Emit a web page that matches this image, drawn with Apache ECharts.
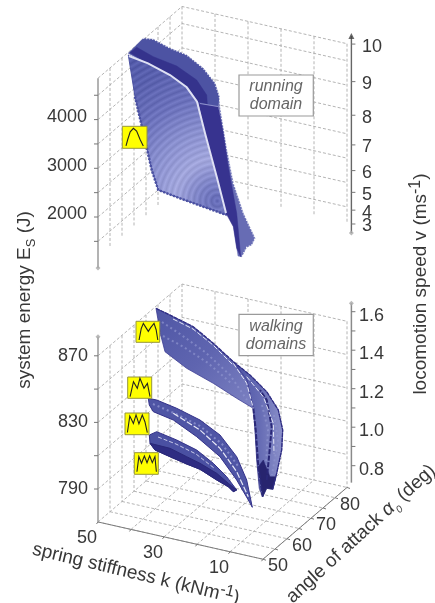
<!DOCTYPE html>
<html>
<head>
<meta charset="utf-8">
<style>html,body{margin:0;padding:0;background:#fff}#c{width:435px;height:603px;filter:blur(.4px)}</style>
<script src="https://cdn.jsdelivr.net/npm/echarts@6/dist/echarts.min.js"></script>
</head>
<body>
<div id="c"></div>
<script>
// ---- axis values ----
const kTicks = [50, 40, 30, 20, 10, 0];
const kLabels = [50, 30, 10];
const alphaTicks = [50, 55, 60, 65, 70, 75, 80, 85];
const alphaLabels = [50, 60, 70, 80];
const energyTicksRun = [1500, 2000, 2500, 3000, 3500, 4000, 4500];
const energyLabelsRun = [2000, 3000, 4000];
const speedTicksRun = [3, 4, 5, 6, 7, 8, 9, 10];
const energyTicksWalk = [790, 810, 830, 850, 870];
const energyLabelsWalk = [790, 830, 870];
const speedTicksWalk = [0.8, 0.9, 1.0, 1.1, 1.2, 1.3, 1.4, 1.5, 1.6];
const speedLabelsWalk = [0.8, 1.0, 1.2, 1.4, 1.6];

// ---- domain outlines in the projected plane of the plot ----
const runBackSheet = [[128.3,53.3],[143.3,38.3],[153.3,39.3],[170,48.3],[186.7,55],[203.3,68.3],[215,83.3],[219.3,96.7],[218.3,106.7],[200,104],[196.7,101.7],[186.7,87.3],[170,75],[146.7,63.3]];
const runDarkStripe = [[130,52.7],[136.7,47.3],[153.3,56.7],[176.7,66],[196.7,80],[206.7,95],[207.3,104],[197.3,101.7],[188.3,87.3],[171.7,75],[148.3,63.3]];
const runFrontSheet = [[128.3,55],[146.7,63.3],[170,75],[186.7,87.3],[196.7,101.7],[205,133.3],[216.7,176.7],[226.7,215],[203.3,206.7],[180,198.3],[158.3,190],[151.7,170],[145,140],[135,96.7]];
const runFrontEdge = [[135,96.7],[145,140],[151.7,170],[158.3,190],[180,198.3],[203.3,206.7],[226.7,215]];
const runOuterEdge = [[143.3,38.3],[153.3,39.3],[170,48.3],[186.7,55],[203.3,68.3],[215,83.3],[219.3,96.7],[220.7,113.3],[226.7,150],[233.3,183.3],[243.3,213.3],[255,238.3],[251.7,245],[246.7,247.3],[241.7,256.7]];
const runSideLight = [[218.3,96.7],[220.7,113.3],[226.7,150],[233.3,183.3],[243.3,213.3],[255,238.3],[251.7,245],[246.7,247.3],[241.7,256.7],[238,256],[236.7,246.7],[230,200],[223.3,146.7]];
const runSideDark = [[198.3,103.3],[218.3,106.7],[223.3,133.3],[228.3,166.7],[236.7,213.3],[240.7,256.7],[236.7,248.3],[233.3,226.7],[226,213.3],[216.7,176.7],[205,133.3]];
const runRidge = [[128.9,56],[148,63.3],[170,75],[186.7,87.3],[197,101.7],[205,133.3],[216.7,176.7],[226,213]];
const runShelf = [[200,103.5],[218,106.5]];

const walk1Front = [[156,308.3],[173.3,316.7],[193.3,326.7],[213.3,343.3],[233.3,361.7],[246.7,380],[253.3,408.3],[236.7,398.3],[213.3,383.3],[186.7,368.3],[165,351.7],[160.7,335]];
const walk1Back = [[233.3,361.7],[250,375],[266.7,391.7],[278.3,410],[282.7,430],[281.7,450],[276.7,473.3],[272.7,489.3],[266.7,488.3],[262.7,496.7],[259.3,488.3],[256.7,460],[255,430],[253.3,408.3],[246.7,380]];
const walk1Tip = [[258.3,466.7],[262.7,496.7],[266.7,488.3],[272.7,489.3],[276,476.7],[270,476.7],[263.3,460]];
const walk1Edge = [[156,308.3],[173.3,316.7],[193.3,326.7],[213.3,343.3],[233.3,361.7],[250,375],[266.7,391.7],[278.3,410],[282.7,430],[281.7,450],[276.7,473.3],[272.7,489.3]];
const walk1InnerA = [[253.3,408.3],[255.7,430],[258.3,466.7],[262.7,496.7]];
const walk1InnerB = [[266.7,480],[270,446.7],[271.7,426.7],[266.7,400],[260,390]];
const walk1GlintA = [[233.3,363.3],[246.7,383.3],[253.3,408.3]];
const walk1GlintB = [[246.7,376.7],[263.3,396.7],[273.3,423.3],[274,453.3]];
const walk1GlintC = [[173,319],[193,329],[213,345],[233,365]];
const walk1Strands = [
  [[162,322],[180,334],[205,352],[230,375],[247,400]],
  [[163,336],[182,346],[208,363],[232,384]],
  [[262,405],[268,430],[266,465]],
  [[274,415],[278,440],[272,475]]
];

const walk2Sheet = [[148.3,398.3],[156.7,400],[176.7,408.3],[200,420],[220,435],[236.7,456.7],[246.7,480],[252.3,507.3],[248.3,500],[236.7,480],[220,456.7],[196.7,436.7],[173.3,420],[153.3,411.7],[149.3,405]];
const walk2Glint = [[173.3,413.3],[200,430],[220,448.3],[236.7,471.7],[248.3,496.7]];
const walk2Strand = [[153,404],[176,414],[200,426],[222,444],[238,466]];

const walk3Sheet = [[149.3,435],[156.7,431.7],[176.7,440],[196.7,450],[213.3,463.3],[226.7,476.7],[236.7,490],[233.3,491.7],[228.3,486.7],[216.7,480],[200,469.3],[186.7,464],[170,456.7],[155,450],[150,443.3]];
const walk3Lower = [[150,443.3],[170,448.3],[186.7,456.7],[200,463.3],[216.7,473.3],[228.3,483.3],[236.7,490],[233.3,491.7],[228.3,486.7],[216.7,480],[200,469.3],[186.7,464],[170,456.7],[155,450]];
const walk3Glint = [[158,437],[176,444],[196,454],[214,468]];

// ---- gait force traces inside the icons (share of icon width, share of icon height) ----
const gaitOneHump = [[.15,.89],[.22,.6],[.32,.25],[.45,.09],[.58,.22],[.72,.6],[.85,.89]];
const gaitTwoHump = [[.13,.89],[.22,.35],[.31,.1],[.42,.3],[.52,.48],[.62,.3],[.76,.1],[.85,.4],[.92,.89]];
const gaitThreeHump = [[.1,.92],[.24,.22],[.4,.53],[.51,.06],[.68,.53],[.82,.3],[.93,.92]];
const gaitFourHump = [[.1,.9],[.2,.14],[.35,.48],[.46,.09],[.58,.5],[.72,.09],[.83,.4],[.93,.9]];
const gaitFiveHump = [[.11,.88],[.19,.18],[.3,.49],[.42,.15],[.53,.46],[.64,.14],[.75,.46],[.86,.18],[.92,.88]];

// ---- oblique projection of (k, alpha, E) ----
const yRun = E => 217 - (E - 2000) * 0.0487;
const yWalk = E => 489 - (E - 790) * 1.665;
const X0 = 98, KDX = 3.3, KDY = 0.745, ADX = 2.4, ADY = 2.05;
const proj = (yOf, k, a, E) => [X0 + (50 - k) * KDX + (a - 50) * ADX, yOf(E) + (50 - k) * KDY - (a - 50) * ADY];

const LABEL = '#383838', FONT = '"Liberation Sans",Arial,sans-serif';
const series = [];

function lineGroup(lines, style, z) {
  series.push({
    type: 'custom', coordinateSystem: 'cartesian2d', silent: true, animation: false, clip: false, z: z,
    data: lines.map((_, i) => [i]), encode: { x: -1, y: -1 },
    renderItem: (p, api) => ({ type: 'polyline', shape: { points: lines[p.dataIndex].map(q => api.coord(q)) }, style: Object.assign({ fill: 'none' }, style) })
  });
}
function area(points, fill, z, stroke, lw) {
  series.push({
    type: 'custom', coordinateSystem: 'cartesian2d', silent: true, animation: false, clip: false, z: z,
    data: points, encode: { x: 0, y: 1 },
    renderItem: (p, api) => p.dataIndex === 0 ? ({ type: 'polygon', shape: { points: points.map(q => api.coord(q)) }, style: { fill: fill, stroke: stroke || fill, lineWidth: lw === undefined ? 0.5 : lw } }) : null
  });
}
function textGroup(items) {
  series.push({
    type: 'custom', coordinateSystem: 'cartesian2d', silent: true, animation: false, clip: false, z: 20,
    data: items.map(t => [t.x, t.y]), encode: { x: 0, y: 1 },
    renderItem: (p, api) => {
      const t = items[p.dataIndex], c = api.coord([t.x, t.y]);
      return { type: 'text', x: c[0], y: c[1], rotation: (t.rot || 0) * Math.PI / 180,
        style: Object.assign({ text: t.text, fill: t.color || LABEL, font: (t.italic ? 'italic ' : '') + (t.size || 18) + 'px ' + FONT, align: t.align || 'center', verticalAlign: 'middle' }, t.rich ? { rich: t.rich } : {}) };
    }
  });
}

// ---- walls, floor, axes ----
const E_FLOOR = 770.2;
function walls(yOf, Etop, Ebottom, ticks) {
  const g = [];
  ticks.concat(Etop === ticks[ticks.length - 1] ? [] : [Etop]).forEach(E => g.push([proj(yOf, 50, 50, E), proj(yOf, 50, 85, E), proj(yOf, 0, 85, E)]));
  alphaTicks.slice(1).forEach(a => g.push([proj(yOf, 50, a, Etop), proj(yOf, 50, a, Ebottom)]));
  kTicks.slice(1).forEach(k => g.push([proj(yOf, k, 85, Etop), proj(yOf, k, 85, Ebottom)]));
  return g;
}
const DASH = { stroke: '#ababab', lineWidth: 0.9, lineDash: [3, 2] };
lineGroup(walls(yRun, 4850, 1158, energyTicksRun), DASH, 1);
lineGroup(walls(yWalk, 870, E_FLOOR, energyTicksWalk), DASH, 1);
const floor = [];
alphaTicks.forEach(a => floor.push([proj(yWalk, 50, a, E_FLOOR), proj(yWalk, 0, a, E_FLOOR)]));
kTicks.forEach(k => floor.push([proj(yWalk, k, 50, E_FLOOR), proj(yWalk, k, 85, E_FLOOR)]));
lineGroup(floor, DASH, 1);

const AX = { stroke: '#7d7d7d', lineWidth: 1 };
lineGroup([[proj(yWalk, 50, 50, E_FLOOR), proj(yWalk, 0, 50, E_FLOOR)], [proj(yWalk, 0, 50, E_FLOOR), proj(yWalk, 0, 85, E_FLOOR)]], AX, 2);
lineGroup([[[X0, yRun(4850)], [X0, yRun(953)]], [[X0, yWalk(881.5)], [X0, yWalk(E_FLOOR)]]], { stroke: '#9a9a9a', lineWidth: 1.5 }, 2);
const xR = 351.4;
const yRunSpeed = v => yRun(40.6 * v * v + 1491);
const yWalkSpeed = v => 465.7 - (v - 0.8) * 192.5;
lineGroup([[[xR, yRun(5717)], [xR, yRun(1671)]]], { stroke: '#666', lineWidth: 1.4 }, 2);
lineGroup([[[xR, yWalkSpeed(1.644)], [xR, yWalkSpeed(0.712)]]], { stroke: '#8a8a8a', lineWidth: 1.5 }, 2);

const ticks = [];
energyTicksRun.forEach(E => ticks.push([[X0 - 4, yRun(E)], [X0, yRun(E)]]));
energyTicksWalk.forEach(E => ticks.push([[X0 - 4, yWalk(E)], [X0, yWalk(E)]]));
speedTicksRun.forEach(v => ticks.push([[xR, yRunSpeed(v)], [xR + 4, yRunSpeed(v)]]));
speedTicksWalk.forEach(v => ticks.push([[xR, yWalkSpeed(v)], [xR + 4, yWalkSpeed(v)]]));
kTicks.forEach(k => { const q = proj(yWalk, k, 50, E_FLOOR); ticks.push([q, [q[0] - 1.5, q[1] + 2]]); });
alphaTicks.forEach(a => { const q = proj(yWalk, 0, a, E_FLOOR); ticks.push([q, [q[0] + 3, q[1] + 1]]); });
lineGroup(ticks, { stroke: '#777', lineWidth: 1 }, 2);

series.push({ type: 'scatter', coordinateSystem: 'cartesian2d', silent: true, animation: false, z: 3, symbol: 'triangle', symbolSize: 6,
  data: [[xR, yRun(5717)]], itemStyle: { color: '#444' } });
series.push({ type: 'scatter', coordinateSystem: 'cartesian2d', silent: true, animation: false, z: 3, symbol: 'diamond', symbolSize: 5,
  data: [[X0, yRun(953)], [xR, yRun(1671)], [X0, yWalk(881.5)], [xR, yWalkSpeed(1.644)]], itemStyle: { color: '#aaa' } });

// ---- running domain ----
const envelope = [[0, [96, 102, 178]], [.12, [124, 130, 196]], [.24, [158, 162, 216]], [.4, [136, 142, 204]], [.6, [104, 110, 184]], [.8, [86, 93, 170]], [1, [78, 85, 164]]];
function bandStops(n) {
  const stops = [];
  for (let i = 0; i <= n; i++) {
    const t = i / n;
    let j = 0; while (j < envelope.length - 2 && envelope[j + 1][0] < t) j++;
    const f = (t - envelope[j][0]) / (envelope[j + 1][0] - envelope[j][0]);
    const sh = i % 2 ? 14 : -6;
    const c = envelope[j][1].map((v, m) => Math.min(255, Math.round(v + (envelope[j + 1][1][m] - v) * f + sh)));
    stops.push({ offset: t, color: 'rgb(' + c.join(',') + ')' });
  }
  return stops;
}
area(runSideLight, '#676cb4', 4);
area(runBackSheet, '#4d53a3', 5);
area(runDarkStripe, '#35338c', 6);
area(runFrontSheet, new echarts.graphic.RadialGradient(0.9, 0.91, 1.75, bandStops(60)), 7, '#4d53a3', 1);
lineGroup([runFrontEdge], { stroke: '#4a50a2', lineWidth: 2.5, lineDash: [2, 1.5] }, 8);
lineGroup([runOuterEdge], { stroke: '#fff', lineWidth: 1.2, lineDash: [1, 2] }, 8);
area(runSideDark, '#37338f', 8);
lineGroup([runRidge], { stroke: '#dfe1f4', lineWidth: 2 }, 9);
lineGroup([runShelf], { stroke: '#8f92cc', lineWidth: 1.2 }, 9);

// ---- walking domains ----
area(walk1Back, new echarts.graphic.LinearGradient(0, 0, 1, 0, [{ offset: 0, color: '#4a50a2' }, { offset: .55, color: '#676db5' }, { offset: 1, color: '#8c91ca' }]), 4, '#2f2d84', 0.8);
area(walk1Front, new echarts.graphic.LinearGradient(0, 0, 1, 1, [{ offset: 0, color: '#4f56a5' }, { offset: .5, color: '#5f65b0' }, { offset: 1, color: '#7d82c2' }]), 5, '#3b3b93', 0.8);
lineGroup(walk1Strands, { stroke: '#8f94cf', lineWidth: 2, lineDash: [2, 3], opacity: 0.7 }, 6);
area(walk1Tip, '#27246f', 6);
lineGroup([walk1Edge], { stroke: '#2f2d84', lineWidth: 1.3, lineDash: [4, 1] }, 7);
lineGroup([walk1InnerA, walk1InnerB], { stroke: '#2a2878', lineWidth: 2, lineDash: [5, 1.5] }, 7);
lineGroup([walk1GlintA, walk1GlintB, walk1GlintC], { stroke: '#e4e6f6', lineWidth: 1, lineDash: [5, 2] }, 8);
area(walk2Sheet, '#4f55a5', 5, '#33318a', 1);
lineGroup([walk2Strand], { stroke: '#8f94cf', lineWidth: 2, lineDash: [2, 3], opacity: 0.8 }, 6);
lineGroup([walk2Glint], { stroke: '#e8e9f7', lineWidth: 1.2, lineDash: [6, 2] }, 8);
area(walk3Sheet, '#4a50a2', 5, '#33318a', 1);
area(walk3Lower, '#2e2c82', 6, '#2a2878', 1);
lineGroup([walk3Glint], { stroke: '#c9cbea', lineWidth: 1, lineDash: [4, 2] }, 8);

// ---- gait icons ----
const icons = [
  { box: [122.3, 126.3, 147, 148.3], trace: gaitOneHump },
  { box: [136, 321.3, 159.7, 342.3], trace: gaitTwoHump },
  { box: [127.7, 377, 151.7, 398.3], trace: gaitThreeHump },
  { box: [125, 413, 149, 434.7], trace: gaitFourHump },
  { box: [134.3, 452.7, 158.3, 474.3], trace: gaitFiveHump }
];
icons.forEach(ic => {
  const b = ic.box;
  area([[b[0], b[1]], [b[2], b[1]], [b[2], b[3]], [b[0], b[3]]], '#ffff00', 12, '#96963c', 1);
  lineGroup([ic.trace.map(q => [b[0] + q[0] * (b[2] - b[0]), b[1] + q[1] * (b[3] - b[1])])], { stroke: '#222', lineWidth: 1.1 }, 13);
});

// ---- note boxes ----
[[239, 75, 313.3, 116], [239, 314.3, 313.3, 355.7]].forEach(b => area([[b[0], b[1]], [b[2], b[1]], [b[2], b[3]], [b[0], b[3]]], '#fff', 11, '#9a9a9a', 1.2));

// ---- text ----
const texts = [
  { x: 276, y: 86.5, text: 'running', italic: 1, size: 16, color: '#666' },
  { x: 276, y: 105, text: 'domain', italic: 1, size: 16, color: '#666' },
  { x: 276, y: 327, text: 'walking', italic: 1, size: 16, color: '#666' },
  { x: 276, y: 345, text: 'domains', italic: 1, size: 16, color: '#666' }
];
energyLabelsRun.forEach(E => texts.push({ x: 87, y: yRun(E) - 2.5, text: String(E), align: 'right' }));
energyLabelsWalk.forEach(E => texts.push({ x: 88, y: yWalk(E), text: String(E), align: 'right' }));
speedTicksRun.forEach(v => texts.push({ x: 362, y: yRunSpeed(v) + 2.5, text: String(v), align: 'left' }));
speedLabelsWalk.forEach(v => texts.push({ x: 359, y: yWalkSpeed(v) + 4, text: v.toFixed(1), align: 'left' }));
kLabels.forEach(k => { const q = proj(yWalk, k, 50, E_FLOOR); texts.push({ x: q[0] - 11, y: q[1] + 16.5, text: String(k) }); });
alphaLabels.forEach(a => { const q = proj(yWalk, 0, a, E_FLOOR); texts.push({ x: q[0] + 15, y: q[1] + 7, text: String(a) }); });
const F = '19px ' + FONT;
const subRich = {
  a: { font: F, fill: LABEL, lineHeight: 26, verticalAlign: 'middle' },
  s: { font: '13px ' + FONT, fill: LABEL, lineHeight: 13, verticalAlign: 'bottom' },
  i: { font: 'italic ' + F, fill: LABEL, lineHeight: 26, verticalAlign: 'middle' },
  is: { font: 'italic 10px ' + FONT, fill: LABEL, lineHeight: 11, verticalAlign: 'bottom' },
  u: { font: '16px ' + FONT, fill: LABEL, lineHeight: 16, verticalAlign: 'top' }
};
texts.push({ x: 25, y: 300, rot: 90, text: '{a|system energy E}{s|S}{a| (J)}', rich: subRich });
texts.push({ x: 136, y: 574, rot: -13.5, text: '{a|spring stiffness k (kNm}{u|-1}{a|)}', rich: subRich });
texts.push({ x: 361, y: 534, rot: 42.5, text: '{a|angle of attack }{i|α}{is|0}{a| (deg)}', rich: subRich });
texts.push({ x: 421, y: 284, rot: 90, text: '{a|locomotion speed v (ms}{u|-1}{a|)}', rich: subRich });
textGroup(texts);

const chart = echarts.init(document.getElementById('c'), null, { renderer: 'canvas', width: 435, height: 603 });
chart.setOption({
  animation: false,
  backgroundColor: '#fff',
  grid: { left: 0, right: 0, top: 0, bottom: 0 },
  xAxis: { type: 'value', min: 0, max: 435, show: false },
  yAxis: { type: 'value', min: 0, max: 603, inverse: true, show: false },
  series: series
});
</script>
</body>
</html>
